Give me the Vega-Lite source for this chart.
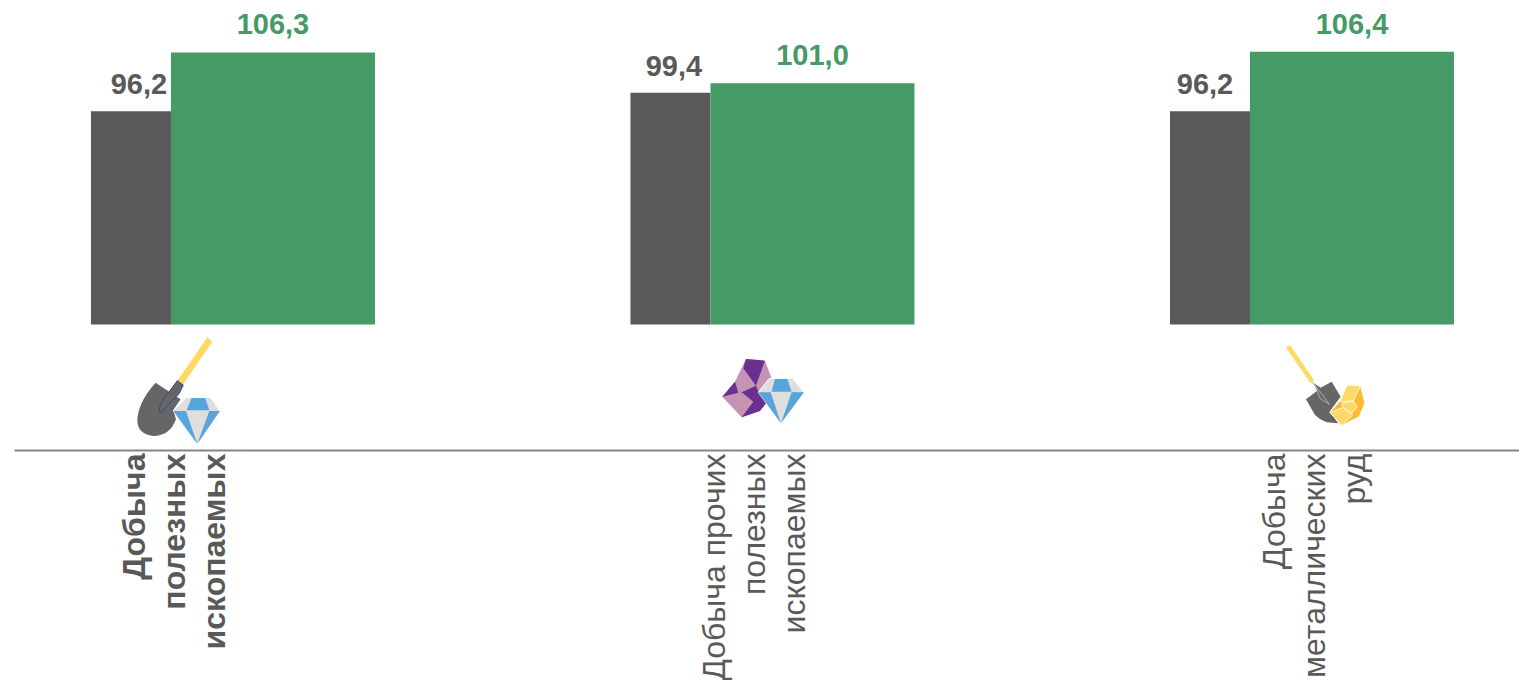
{"$schema":"https://vega.github.io/schema/vega-lite/v6.json","width":1505,"height":450,"autosize":{"type":"none"},"padding":{"left":14,"top":0,"right":0,"bottom":230},"background":"white","config":{"view":{"stroke":null},"font":"Liberation Sans"},
"datasets":{"bars":[
{"category":"Добыча\nполезных\nископаемых","series":"prev","value":96.2,"label":"96,2"},
{"category":"Добыча\nполезных\nископаемых","series":"curr","value":106.3,"label":"106,3"},
{"category":"Добыча прочих\nполезных\nископаемых","series":"prev","value":99.4,"label":"99,4"},
{"category":"Добыча прочих\nполезных\nископаемых","series":"curr","value":101.0,"label":"101,0"},
{"category":"Добыча\nметаллических\nруд","series":"prev","value":96.2,"label":"96,2"},
{"category":"Добыча\nметаллических\nруд","series":"curr","value":106.4,"label":"106,4"}
],"one":[{"category":"Добыча\nполезных\nископаемых"}],"two":[{"category":"Добыча прочих\nполезных\nископаемых"}],"three":[{"category":"Добыча\nметаллических\nруд"}]},
"data":{"name":"bars"},
"encoding":{"x":{"field":"category","type":"nominal","sort":null,"title":null,
"scale":{"type":"point","domain":["Добыча\nполезных\nископаемых","Добыча прочих\nполезных\nископаемых","Добыча\nметаллических\nруд"],"padding":0.3948,"align":0.514},
"axis":{"orient":"bottom","title":null,"ticks":false,"grid":false,"domain":true,"domainColor":"#868686","domainWidth":2,"labelAngle":-90,"labelAlign":"right","labelBaseline":"middle","labelPadding":3,"labelFontSize":32,"labelColor":"#595959","labelFont":"Liberation Sans","labelLineHeight":40,"labelOverlap":false,"labelBound":false,"labelFlush":false,"labelLimit":400,"labelExpr":"split(datum.label,'\\n')","labelFontWeight":{"condition":{"test":"datum.index==0","value":"bold"},"value":"normal"},"labelOffset":{"expr":"datum.index==0?-98:datum.index==1?-37:-57.5"}}}},
"layer":[
{"transform":[{"filter":"datum.series=='prev'"}],"mark":{"type":"bar","color":"#595959","size":80,"xOffset":-102},"encoding":{"y":{"field":"value","type":"quantitative","axis":null,"scale":{"domain":[38.21,115.27],"nice":false,"zero":false}},"y2":{"datum":59.7}}},
{"transform":[{"filter":"datum.series=='curr'"}],"mark":{"type":"bar","color":"#459A66","size":204,"xOffset":40},"encoding":{"y":{"field":"value","type":"quantitative"},"y2":{"datum":59.7}}},
{"transform":[{"filter":"datum.series=='curr'"}],"mark":{"type":"text","color":"#459A66","fontSize":29,"fontWeight":"bold","baseline":"alphabetic","xOffset":40,"yOffset":-18},"encoding":{"y":{"field":"value","type":"quantitative"},"text":{"field":"label"}}},
{"transform":[{"filter":"datum.series=='prev' && indexof(datum.category,'полезных')>=0 && indexof(datum.category,'прочих')<0"}],"mark":{"type":"text","color":"#595959","fontSize":29,"fontWeight":"bold","baseline":"alphabetic","xOffset":-94,"yOffset":-17},"encoding":{"y":{"field":"value","type":"quantitative"},"text":{"field":"label"}}},
{"transform":[{"filter":"datum.series=='prev' && indexof(datum.category,'прочих')>=0"}],"mark":{"type":"text","color":"#595959","fontSize":29,"fontWeight":"bold","baseline":"alphabetic","xOffset":-98.5,"yOffset":-17},"encoding":{"y":{"field":"value","type":"quantitative"},"text":{"field":"label"}}},
{"transform":[{"filter":"datum.series=='prev' && indexof(datum.category,'руд')>=0"}],"mark":{"type":"text","color":"#595959","fontSize":29,"fontWeight":"bold","baseline":"alphabetic","xOffset":-107,"yOffset":-17},"encoding":{"y":{"field":"value","type":"quantitative"},"text":{"field":"label"}}},

{"data":{"name":"one"},"mark":{"type":"point","filled":true,"opacity":1,"size":0.4444,"xOffset":-113,"color":"#FFD966","shape":"M262 22 L277 35 L190 163 L172 152 Z"},"encoding":{"y":{"datum":58.76}}},
{"data":{"name":"one"},"mark":{"type":"point","filled":true,"opacity":1,"size":0.4444,"xOffset":-113,"color":"#666666","shape":"M107 158 L182 208 L160 240 L168 268 Q150 318 100 318 Q52 312 52 270 Q55 215 107 158 Z"},"encoding":{"y":{"datum":58.76}}},
{"data":{"name":"one"},"mark":{"type":"point","filled":true,"opacity":1,"size":0.4444,"xOffset":-113,"fill":"#666666","stroke":"#2F4A8A","strokeWidth":1,"shape":"M172 152 L190 165 L178 190 L125 247 L117 245 L122 220 Z"},"encoding":{"y":{"datum":58.76}}},
{"data":{"name":"one"},"mark":{"type":"point","filled":true,"opacity":1,"size":0.4444,"xOffset":-113,"fill":"#DEDEDE","stroke":"#FFFFFF","strokeWidth":1,"shape":"M200 202 L272 202 L300 243 L232 342 L160 243 Z"},"encoding":{"y":{"datum":58.76}}},
{"data":{"name":"one"},"mark":{"type":"point","filled":true,"opacity":1,"size":0.4444,"xOffset":-113,"color":"#56A5DC","shape":"M215 204 L256 204 L268 241 L200 241 Z M160 243 L198 243 L232 342 Z M268 243 L300 243 L232 342 Z"},"encoding":{"y":{"datum":58.76}}},

{"data":{"name":"two"},"mark":{"type":"point","filled":true,"opacity":1,"size":0.4444,"xOffset":-62.5,"color":"#C594B5","shape":"M108 42 L165 47 L185 100 L145 145 L168 175 L150 198 L95 217 L37 155 L75 110 Z"},"encoding":{"y":{"datum":56.19}}},
{"data":{"name":"two"},"mark":{"type":"point","filled":true,"opacity":1,"size":0.4444,"xOffset":-62.5,"color":"#6B2F90","shape":"M108 42 L165 47 L138 122 L100 70 Z M75 110 L85 143 L37 155 Z M95 142 L138 122 L150 150 L168 175 L150 198 L95 217 L130 170 Z"},"encoding":{"y":{"datum":56.19}}},
{"data":{"name":"two"},"mark":{"type":"point","filled":true,"opacity":1,"size":0.4444,"xOffset":-62.5,"fill":"#DEDEDE","stroke":"#FFFFFF","strokeWidth":1,"shape":"M178 100 L248 100 L282 142 L213 235 L145 142 Z"},"encoding":{"y":{"datum":56.19}}},
{"data":{"name":"two"},"mark":{"type":"point","filled":true,"opacity":1,"size":0.4444,"xOffset":-62.5,"color":"#56A5DC","shape":"M195 102 L232 102 L245 140 L185 140 Z M145 142 L182 142 L213 235 Z M245 142 L282 142 L213 235 Z"},"encoding":{"y":{"datum":56.19}}},

{"data":{"name":"three"},"mark":{"type":"point","filled":true,"opacity":1,"size":0.4444,"xOffset":-42,"color":"#FFD966","shape":"M48 38 L60 30 L132 135 L122 145 Z"},"encoding":{"y":{"datum":57.9}}},
{"data":{"name":"three"},"mark":{"type":"point","filled":true,"opacity":1,"size":0.4444,"xOffset":-42,"color":"#666666","shape":"M125 140 L152 158 L185 140 L212 185 L180 228 L205 265 L170 262 Q150 255 135 240 L108 193 L145 165 Z"},"encoding":{"y":{"datum":57.9}}},
{"data":{"name":"three"},"mark":{"type":"point","filled":true,"opacity":1,"size":0.4444,"xOffset":-42,"fill":"#666666","stroke":"#BFBFBF","strokeWidth":0.8,"shape":"M128 143 L158 180 L178 208 L150 190 L135 150 Z"},"encoding":{"y":{"datum":57.9}}},
{"data":{"name":"three"},"mark":{"type":"point","filled":true,"opacity":1,"size":0.4444,"xOffset":-42,"fill":"#FDBB2F","stroke":"#FFFFFF","strokeWidth":1,"shape":"M232 150 L272 152 L285 205 L268 245 L215 272 L180 232 L208 200 Z"},"encoding":{"y":{"datum":57.9}}},
{"data":{"name":"three"},"mark":{"type":"point","filled":true,"opacity":1,"size":0.4444,"xOffset":-42,"fill":"#FFD966","stroke":"#FFFFFF","strokeWidth":0.8,"shape":"M232 150 L272 152 L250 198 L210 200 Z M180 232 L218 218 L248 240 L215 272 Z M215 205 L250 198 L262 215 L245 235 L218 215 Z"},"encoding":{"y":{"datum":57.9}}}
]}
